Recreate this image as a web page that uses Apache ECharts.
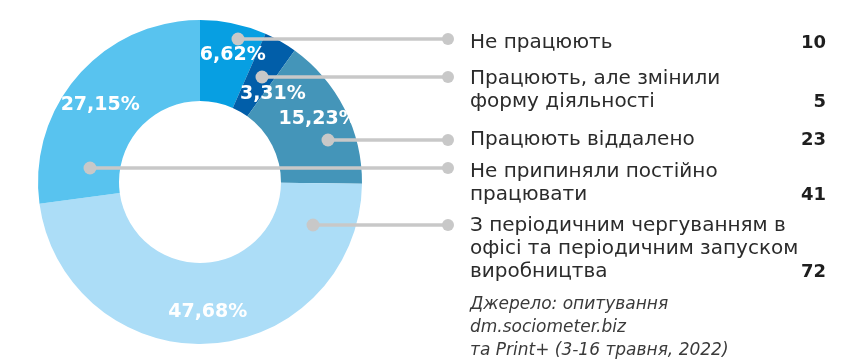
<!DOCTYPE html>
<html>
<head>
<meta charset="utf-8">
<script src="https://cdn.jsdelivr.net/npm/echarts@6/dist/echarts.min.js"></script>
<style>
html,body{margin:0;padding:0;background:#fff;}
#c{width:862px;height:360px;}
</style>
</head>
<body>
<div id="c"></div>
<script>
// ---- data (legend order) ----
const categories = [
  'Не працюють',
  'Працюють, але змінили\nформу діяльності',
  'Працюють віддалено',
  'Не припиняли постійно\nпрацювати',
  'З періодичним чергуванням в\nофісі та періодичним запуском\nвиробництва'
];
const values = [10, 5, 23, 41, 72];
// clockwise order of slices starting at 12 o'clock
const sliceOrder = [0, 1, 2, 4, 3];
const sourceLines = ['Джерело: опитування', 'dm.sociometer.biz', 'та Print+ (3-16 травня, 2022)'];

// ---- styles / layout (not data) ----
const colors = ['#079fe2', '#015ea9', '#4495b9', '#58c3ef', '#acddf7'];
const pctOffsets = [[7, -5], [11, 20], [7, -7], [-6, 5], [0, 6]];
const anchors = [[238, 39], [262, 77], [328, 140], [90, 168], [313, 225]];
const rowY = [43, 79, 140, 172, 226];
const LINE_H = 23;
const TEXT_X = 470, VALUE_X = 826, LINE_END_X = 448;
const FONT = '"DejaVu Sans", sans-serif';

const total = values.reduce((a, b) => a + b, 0);
const fmtPct = v => (v / total * 100).toFixed(2).replace('.', ',') + '%';

const pieData = sliceOrder.map(i => ({
  name: categories[i],
  value: values[i],
  itemStyle: { color: colors[i] },
  label: { offset: pctOffsets[i] }
}));

const graphics = [];
categories.forEach((cat, i) => {
  const [ax, ay] = anchors[i];
  graphics.push({
    type: 'line', z: 10,
    shape: { x1: ax, y1: ay, x2: LINE_END_X, y2: ay },
    style: { stroke: '#c8c8c8', lineWidth: 3.5 }
  });
  graphics.push({ type: 'circle', z: 11, shape: { cx: ax, cy: ay, r: 6.5 }, style: { fill: '#c8c8c8' } });
  graphics.push({ type: 'circle', z: 11, shape: { cx: LINE_END_X, cy: ay, r: 6 }, style: { fill: '#c8c8c8' } });
  const lines = cat.split('\n');
  lines.forEach((ln, j) => {
    graphics.push({
      type: 'text', z: 12, x: TEXT_X, y: rowY[i] + j * LINE_H,
      style: { text: ln, font: '400 20px ' + FONT, fill: '#2b2b2b', textAlign: 'left', textVerticalAlign: 'middle' }
    });
  });
  graphics.push({
    type: 'text', z: 12, x: VALUE_X, y: rowY[i] + (lines.length - 1) * LINE_H,
    style: { text: String(values[i]), font: 'bold 18px ' + FONT, fill: '#1e1e1e', textAlign: 'right', textVerticalAlign: 'middle' }
  });
});
sourceLines.forEach((ln, j) => {
  graphics.push({
    type: 'text', z: 12, x: TEXT_X, y: 305 + j * LINE_H,
    style: { text: ln, font: 'italic 400 17px ' + FONT, fill: '#3a3a3a', textAlign: 'left', textVerticalAlign: 'middle' }
  });
});

const chart = echarts.init(document.getElementById('c'), null, { renderer: 'canvas' });
chart.setOption({
  animation: false,
  backgroundColor: '#ffffff',
  series: [{
    type: 'pie',
    center: [200, 182],
    radius: [81, 162],
    startAngle: 90,
    clockwise: true,
    avoidLabelOverlap: false,
    silent: true,
    itemStyle: { borderWidth: 0 },
    label: {
      show: true,
      position: 'inside',
      formatter: p => fmtPct(p.value),
      color: '#ffffff',
      fontFamily: FONT,
      fontWeight: 'bold',
      fontSize: 19
    },
    labelLine: { show: false },
    data: pieData
  }],
  graphic: graphics
});
</script>
</body>
</html>
